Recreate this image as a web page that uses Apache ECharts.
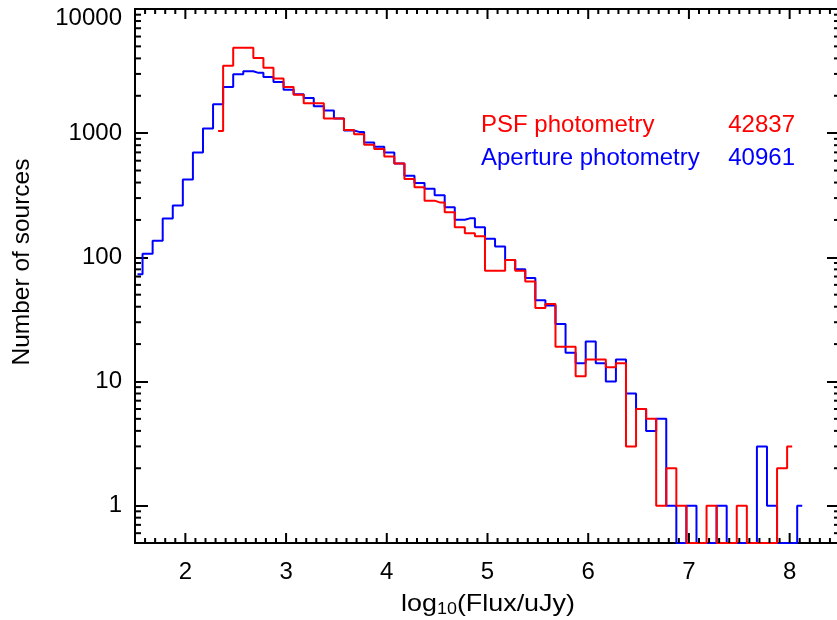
<!DOCTYPE html>
<html><head><meta charset="utf-8">
<script src="https://cdn.jsdelivr.net/npm/echarts@6/dist/echarts.min.js"></script>
<style>html,body{margin:0;padding:0;background:#fff}#c{width:837px;height:620px}</style>
</head><body><div id="c"></div>
<script>
// ---- axis ranges ----
const X_MIN = 1.5, X_MAX = 8.5, Y_MIN = 0.5, Y_MAX = 10000;
const BIN_WIDTH = 0.1;

// ---- Aperture photometry histogram (blue) ----
const APERTURE_FIRST_BIN = 1.525;
const APERTURE_COUNTS = [
  73, 107, 136, 205, 262, 424, 700, 1090, 1710, 2355,
  2980, 3150, 3060, 2830, 2580, 2240, 2055, 1920, 1650, 1520,
  1310, 1050, 1024, 840, 776, 699, 570, 454, 397, 357,
  316, 253, 201, 206, 175, 141, 122, 95, 80, 68,
  45, 41, 29, 17, 14, 21, 14, 10, 15, 8,
  6, 4, 5, 1, 0, 1, 0, 0, 1, 0,
  0, 0, 3, 1, 0, 0, 1
];

// ---- PSF photometry histogram (red) ----
const PSF_FIRST_BIN = 2.325;
const PSF_COUNTS = [
  1040, 3490, 4870, 4870, 4030, 3365, 2760, 2355, 2040, 1740,
  1740, 1310, 1310, 1060, 982, 806, 744, 649, 570, 427,
  366, 286, 277, 231, 175, 156, 148, 78, 78, 95,
  78, 64, 39, 42, 19, 19, 11, 15, 15, 13,
  14, 3, 6, 5, 1, 2, 1, 0, 0, 1,
  0, 0, 1, 0, 0, 0, 2, 3
];

// ---- labels ----
const X_TICK_LABELS = ['2', '3', '4', '5', '6', '7', '8'];
const Y_TICK_LABELS = ['1', '10', '100', '1000', '10000'];
const LEGEND_NAMES = ['PSF photometry', 'Aperture photometry'];
const LEGEND_TOTALS = ['42837', '40961'];
const X_TITLE = 'log{s|10}(Flux/uJy)';
const Y_TITLE = 'Number of sources';

const FONT = 'Liberation Sans';
const RED = '#ff0000', BLUE = '#0000ff';

function toPoints(first, counts) {
  return counts.map((c, i) => [+(first + i * BIN_WIDTH).toFixed(3), c > 0 ? c : Y_MIN]);
}

// tick positions (axis structure)
const X_TICKS = [];
for (let k = Math.round(X_MIN * 10); k <= Math.round(X_MAX * 10); k++) X_TICKS.push([k / 10, k % 10 === 0 ? 1 : 0]);
const Y_MINOR = [];
for (let e = -1; e <= 3; e++) for (let m = 2; m <= 9; m++) {
  const v = m * Math.pow(10, e);
  if (v >= Y_MIN && v <= Y_MAX) Y_MINOR.push([X_MIN, v]);
}

const chart = echarts.init(document.getElementById('c'), null, { renderer: 'canvas' });

const tickStyle = { stroke: '#000', lineWidth: 2 };
const legendFont = '24px "' + FONT + '"';

chart.setOption({
  animation: false,
  backgroundColor: '#fff',
  grid: { left: 135, right: -3, top: 9, bottom: 77, show: true, borderColor: '#000', borderWidth: 2, backgroundColor: 'transparent', containLabel: false, outerBoundsMode: 'none' },
  xAxis: [{
    type: 'value', min: X_MIN, max: X_MAX, interval: 0.5, position: 'bottom',
    axisLine: { show: false }, axisTick: { show: false }, splitLine: { show: false },
    axisLabel: {
      margin: 17, color: '#000', fontFamily: FONT, fontSize: 24,
      formatter: v => { const i = X_TICK_LABELS.indexOf(String(Math.round(v))); return (Math.abs(v - Math.round(v)) < 1e-6 && i >= 0) ? X_TICK_LABELS[i] : ''; }
    }
  }],
  yAxis: [{
    type: 'log', logBase: 10, min: Y_MIN, max: Y_MAX, position: 'left',
    axisLine: { show: false }, splitLine: { show: false },
    axisTick: { show: true, inside: true, length: 13, lineStyle: { color: '#000', width: 2 } },
    axisLabel: {
      margin: 13, color: '#000', fontFamily: FONT, fontSize: 24, showMinLabel: true, showMaxLabel: true,
      formatter: v => {
        const s = String(Math.round(v));
        if (!(Math.abs(v - Math.round(v)) < 1e-6 && Y_TICK_LABELS.indexOf(s) >= 0)) return '';
        return s === Y_TICK_LABELS[Y_TICK_LABELS.length - 1] ? '{t|' + s + '}' : s;
      },
      rich: { t: { fontFamily: FONT, fontSize: 24, color: '#000', padding: [18, 0, 0, 0] } }
    }
  }, {
    type: 'log', logBase: 10, min: Y_MIN, max: Y_MAX, position: 'right',
    axisLine: { show: false }, splitLine: { show: false }, axisLabel: { show: false },
    axisTick: { show: true, inside: true, length: 13, lineStyle: { color: '#000', width: 2 } }
  }],
  series: [
    {
      type: 'line', name: LEGEND_NAMES[1], step: 'middle', symbol: 'none', clip: true,
      data: toPoints(APERTURE_FIRST_BIN, APERTURE_COUNTS),
      lineStyle: { color: BLUE, width: 2 }, z: 3
    },
    {
      type: 'line', name: LEGEND_NAMES[0], step: 'middle', symbol: 'none', clip: true,
      data: toPoints(PSF_FIRST_BIN, PSF_COUNTS),
      lineStyle: { color: RED, width: 2 }, z: 4
    },
    {
      type: 'custom', silent: true, clip: false, z: 5,
      data: X_TICKS,
      renderItem: (params, api) => {
        const cs = params.coordSys;
        const x = api.coord([api.value(0), Y_MIN])[0];
        const len = api.value(1) ? 10 : 5;
        return { type: 'group', children: [
          { type: 'line', shape: { x1: x, y1: cs.y + cs.height, x2: x, y2: cs.y + cs.height - len }, style: tickStyle },
          { type: 'line', shape: { x1: x, y1: cs.y, x2: x, y2: cs.y + len }, style: tickStyle }
        ]};
      }
    },
    {
      type: 'custom', silent: true, clip: false, z: 5,
      data: Y_MINOR,
      renderItem: (params, api) => {
        const cs = params.coordSys;
        const y = api.coord([X_MIN, api.value(1)])[1];
        return { type: 'group', children: [
          { type: 'line', shape: { x1: cs.x, y1: y, x2: cs.x + 6, y2: y }, style: tickStyle },
          { type: 'line', shape: { x1: cs.x + cs.width, y1: y, x2: cs.x + cs.width - 6, y2: y }, style: tickStyle }
        ]};
      }
    }
  ],
  graphic: [
    { type: 'text', left: 481, top: 113, style: { text: LEGEND_NAMES[0], fill: RED, font: legendFont } },
    { type: 'text', right: 42, top: 113, style: { text: LEGEND_TOTALS[0], fill: RED, font: legendFont } },
    { type: 'text', left: 481, top: 146, style: { text: LEGEND_NAMES[1], fill: BLUE, font: legendFont } },
    { type: 'text', right: 42, top: 146, style: { text: LEGEND_TOTALS[1], fill: BLUE, font: legendFont } },
    { type: 'text', x: 488, y: 604, scaleX: 1.12, style: { text: X_TITLE, fill: '#000', align: 'center', verticalAlign: 'middle', fontFamily: FONT, fontSize: 24,
        rich: { s: { fontFamily: FONT, fontSize: 16, padding: [12, 0, 0, 0] } } } },
    { type: 'text', x: 22, y: 262, rotation: Math.PI / 2, style: { text: Y_TITLE, fill: '#000', align: 'center', verticalAlign: 'middle', fontFamily: FONT, fontSize: 24.5 } }
  ]
});
</script></body></html>
